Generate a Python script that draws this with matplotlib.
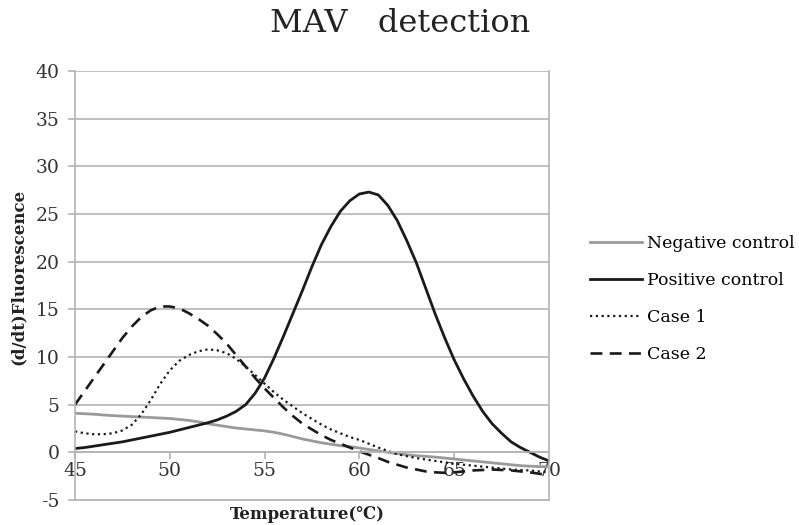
import matplotlib
matplotlib.use("Agg")
import matplotlib.pyplot as plt

plt.rcParams['font.family'] = ['DejaVu Serif', 'DejaVu Sans']
plt.rcParams['axes.unicode_minus'] = False

# data (0.5 degree steps, 45 .. 70)
temperature = [45 + 0.5 * i for i in range(51)]
negative_control = [4.1, 4.05, 4.0, 3.92, 3.85, 3.8, 3.75, 3.7, 3.65, 3.6, 3.55, 3.45, 3.35,
                    3.2, 3.0, 2.85, 2.7, 2.55, 2.45, 2.35, 2.25, 2.1, 1.9, 1.65, 1.4, 1.2,
                    1.0, 0.85, 0.7, 0.6, 0.45, 0.3, 0.15, 0.0, -0.15, -0.25, -0.35, -0.42,
                    -0.5, -0.6, -0.7, -0.8, -0.9, -1.0, -1.1, -1.2, -1.3, -1.4, -1.45, -1.5, -1.5]
positive_control = [0.4, 0.5, 0.65, 0.8, 0.95, 1.1, 1.3, 1.5, 1.7, 1.9, 2.1, 2.35, 2.6,
                    2.85, 3.1, 3.4, 3.8, 4.3, 5.0, 6.2, 7.8, 9.9, 12.2, 14.6, 17.0, 19.5,
                    21.8, 23.7, 25.3, 26.4, 27.1, 27.3, 27.0, 25.9, 24.3, 22.2, 19.9, 17.2,
                    14.5, 12.0, 9.7, 7.7, 5.9, 4.3, 3.0, 2.0, 1.1, 0.5, 0.0, -0.5, -0.9]
case_1 = [2.2, 2.0, 1.9, 1.9, 2.0, 2.3, 2.9, 4.0, 5.5, 7.2, 8.6, 9.6, 10.2,
          10.6, 10.8, 10.7, 10.4, 9.8, 9.0, 8.1, 7.2, 6.3, 5.5, 4.8, 4.1, 3.5,
          2.9, 2.4, 2.0, 1.6, 1.3, 0.9, 0.5, 0.15, -0.2, -0.4, -0.6, -0.75,
          -0.9, -1.05, -1.2, -1.3, -1.4, -1.5, -1.6, -1.7, -1.8, -1.85, -1.9, -2.0, -2.1]
case_2 = [5.0, 6.4, 7.8, 9.2, 10.6, 12.0, 13.2, 14.2, 14.9, 15.3, 15.3, 15.1, 14.6,
          14.0, 13.3, 12.4, 11.4, 10.2, 9.0, 7.8, 6.7, 5.7, 4.7, 3.8, 3.0, 2.4,
          1.8, 1.3, 0.9, 0.5, 0.1, -0.25, -0.6, -1.0, -1.3, -1.6, -1.8, -2.0,
          -2.1, -2.15, -2.1, -2.0, -1.9, -1.85, -1.8, -1.85, -1.9, -2.0, -2.1, -2.25, -2.4]

x_ticks = [45, 50, 55, 60, 65, 70]
y_ticks = [-5, 0, 5, 10, 15, 20, 25, 30, 35, 40]

W, H = 799, 525
fig = plt.figure(figsize=(W / 100, H / 100), dpi=100)
ax = fig.add_axes([75 / W, 1 - 500 / H, (549 - 75) / W, (500 - 71) / H])

ax.plot(temperature, negative_control, color='#9a9a9a', lw=2.0, label='Negative control')
ax.plot(temperature, positive_control, color='#1a1a1a', lw=2.0, label='Positive control')
ax.plot(temperature, case_1, color='#1a1a1a', lw=1.6, linestyle=(0, (1, 1.6)), label='Case 1')
ax.plot(temperature, case_2, color='#1a1a1a', lw=1.9, linestyle=(0, (4.5, 2.8)), label='Case 2')

ax.set_xlim(45, 70)
ax.set_ylim(-5, 40)
ax.set_xticks(x_ticks)
ax.set_yticks(y_ticks)

grid_c = '#b4b4b4'
ax.yaxis.grid(True, color=grid_c, lw=1.2)
ax.axhline(-5, color=grid_c, lw=1.2, clip_on=False, zorder=0.5)
ax.set_axisbelow(True)
ax.spines['top'].set_visible(False)
ax.spines['right'].set_color(grid_c)
ax.spines['left'].set_color(grid_c)
ax.spines['left'].set_linewidth(1.2)
ax.spines['right'].set_linewidth(1.2)
ax.spines['bottom'].set_position(('data', 0))
ax.spines['bottom'].set_color(grid_c)
ax.spines['bottom'].set_linewidth(1.2)

ax.tick_params(axis='y', length=5, width=1.2, color=grid_c, pad=6, labelsize=13.5, labelcolor='#333333')
ax.tick_params(axis='x', length=5, width=1.2, color=grid_c, pad=2, labelsize=13.5, labelcolor='#333333')

ax.set_xlabel('Temperature(℃)', fontsize=12, fontweight='bold', color='#222222')
ax.xaxis.set_label_coords(0.49, -0.015)
ax.set_ylabel('(d/dt)Fluorescence', fontsize=12, fontweight='bold', color='#222222')
ax.yaxis.set_label_coords(-0.102, 0.52)

fig.text(400 / W, 1 - 24 / H, 'MAV   detection', fontsize=23, ha='center', va='center', color='#222222')

fig.legend(loc='upper left', bbox_to_anchor=(590 / W, 1 - 235 / H), frameon=False,
           borderaxespad=0, borderpad=0, fontsize=12.5, handlelength=3.0,
           handletextpad=0.3, labelspacing=1.15)

fig.savefig('out.png', dpi=100)
